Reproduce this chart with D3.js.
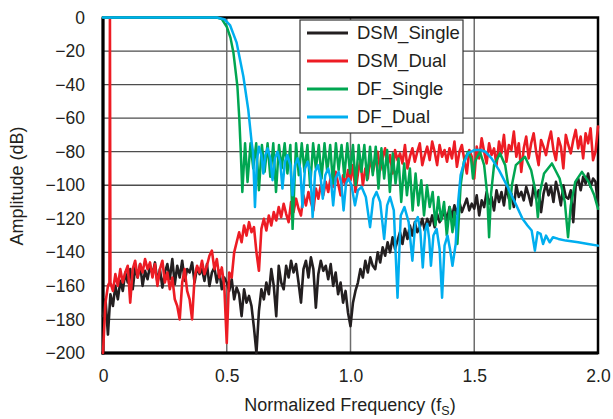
<!DOCTYPE html>
<html><head><meta charset="utf-8">
<script src="https://cdn.jsdelivr.net/npm/d3@7"></script>
<style>
body{margin:0;background:#fff}
text{font-family:"Liberation Sans",Arial,Helvetica,sans-serif;fill:#231f20}
</style>
</head><body>
<svg id="chart" width="613" height="419"></svg>
<script>
// ---------- DATA ----------
const seriesNames = ["DSM_Single", "DSM_Dual", "DF_Single", "DF_Dual"];
const seriesColors = ["#231f20", "#ed1c24", "#00a651", "#00aeef"];

const yTicks = [0, -20, -40, -60, -80, -100, -120, -140, -160, -180, -200];
const xTicks = [0, 0.5, 1.0, 1.5, 2.0];
const xTickLabels = ["0", "0.5", "1.0", "1.5", "2.0"];

// noisy spectra sampled every 0.01 fS from 0 to 2.0
const noiseStart = 0, noiseStep = 0.01;
const dsmSingleDb = [
 -178,-168,-189,-165,-172,-160,-168,-157,-163,-152,
 -158,-150,-162,-149,-155,-147,-160,-151,-156,-148,
 -153,-146,-158,-150,-161,-152,-147,-156,-144,-159,
 -148,-155,-145,-157,-150,-152,-146,-158,-149,-153,
 -150,-157,-147,-160,-152,-149,-158,-151,-162,-155,
 -158,-163,-156,-168,-161,-165,-178,-162,-170,-166,
 -172,-185,-200,-175,-162,-168,-158,-165,-150,-160,
 -178,-148,-158,-162,-148,-155,-145,-152,-147,-158,
 -170,-150,-145,-155,-143,-150,-173,-153,-145,-151,
 -148,-156,-147,-160,-152,-165,-158,-170,-163,-176,
 -184,-170,-163,-158,-150,-155,-145,-152,-143,-148,
 -150,-140,-146,-137,-142,-134,-140,-131,-138,-133,
 -128,-135,-126,-132,-124,-130,-122,-128,-125,-120,
 -127,-120,-124,-118,-125,-117,-122,-119,-115,-121,
 -113,-119,-112,-117,-110,-116,-112,-108,-115,-111,
 -114,-106,-118,-109,-113,-104,-111,-107,-115,-103,
 -110,-104,-112,-101,-108,-105,-113,-100,-107,-104,
 -109,-101,-106,-112,-100,-108,-103,-116,-105,-99,
 -106,-101,-110,-98,-104,-112,-100,-107,-108,-103,
 -122,-100,-96,-103,-95,-99,-93,-101,-96,-98,
 -112];
const dsmDualDb = [
 -200,-170,-160,-157,-163,-153,-160,-150,-158,-152,
 -148,-170,-150,-145,-155,-147,-152,-144,-150,-146,
 -155,-147,-160,-150,-145,-158,-152,-162,-155,-168,
 -172,-180,-158,-150,-163,-168,-180,-155,-148,-152,
 -145,-153,-148,-142,-139,-150,-144,-155,-149,-160,
 -194,-152,-155,-140,-134,-128,-134,-124,-130,-122,
 -128,-125,-140,-151,-126,-120,-127,-118,-124,-116,
 -121,-113,-119,-111,-117,-122,-110,-116,-108,-114,
 -118,-106,-112,-104,-110,-115,-102,-108,-100,-106,
 -98,-104,-95,-101,-92,-99,-106,-94,-100,-91,
 -97,-88,-104,-93,-85,-100,-90,-96,-83,-92,
 -86,-80,-91,-84,-78,-88,-82,-93,-79,-85,
 -81,-87,-76,-90,-83,-78,-86,-80,-75,-88,
 -82,-77,-85,-74,-80,-88,-76,-83,-79,-86,
 -78,-84,-74,-89,-80,-76,-85,-93,-79,-83,
 -96,-77,-84,-72,-80,-87,-75,-82,-78,-88,
 -74,-81,-70,-86,-76,-79,-68,-83,-75,-92,
 -78,-71,-84,-75,-69,-80,-88,-73,-77,-82,
 -74,-68,-79,-85,-72,-77,-90,-70,-76,-81,
 -73,-67,-78,-71,-84,-69,-75,-66,-85,-80,
 -65];
// test tone of the dual-tone DSM measurement
const dsmDualToneF = [0.026, 0.028, 0.030];
const dsmDualToneDb = [-158, 0, -158];

// digital filter responses
const dfSingleF = [0, 0.46, 0.48, 0.50, 0.515, 0.527, 0.543, 0.551, 0.556,
 0.563,0.574, 0.584,0.596, 0.607,0.619, 0.630,0.642, 0.653,0.665, 0.676,0.688,
 0.699,0.711, 0.722,0.734, 0.745,0.757, 0.766,0.780, 0.791,0.803, 0.814,0.826,
 0.837,0.849, 0.860,0.872, 0.883,0.895, 0.906,0.918, 0.929,0.941, 0.952,0.964,
 0.975,0.987, 0.998,1.010, 1.021,1.033, 1.044,1.056, 1.067,1.079, 1.090,1.102,
 1.113,1.125, 1.136,1.148, 1.159,1.171, 1.182,1.194, 1.205,1.217, 1.228,1.240,
 1.251,1.263, 1.274,1.286, 1.297,1.309, 1.320,1.332, 1.343,1.355, 1.366,1.378,
 1.389,1.401, 1.412,1.420,
 1.432,1.445,1.458,1.475,1.487,1.495,1.503,1.523,1.540,1.552,1.560,1.568,1.580,
 1.604,1.625,1.637,1.644,1.652,1.668,1.705,1.730,1.748,1.757,1.766,1.782,1.814,
 1.845,1.866,1.879,1.890,1.908,1.935,1.962,1.985,2.0];
const dfSingleDb = [0, 0, -1, -5.5, -12, -21, -41, -61, -78,
 -104,-75, -98,-75, -90,-75, -103,-76, -92,-75, -95,-75,
 -104,-76, -90,-75, -93,-76, -126,-75, -94,-75, -92,-76,
 -101,-75, -90,-76, -96,-75, -92,-76, -99,-75, -91,-76,
 -95,-75, -93,-76, -100,-76, -92,-76, -97,-77, -94,-77,
 -102,-78, -96,-79, -104,-81, -99,-84, -110,-87, -106,-90,
 -115,-93, -112,-97, -118,-100, -113,-104, -124,-107, -121,-110,
 -130,-113, -128,-116,
 -135,-100,-86,-80,-84,-96,-86,-80,-88,-105,-131,-105,-88,
 -81,-88,-100,-114,-100,-88,-83,-91,-104,-119,-104,-93,-87,
 -96,-110,-131,-112,-98,-92,-98,-106,-114];

const dfDualF = [0, 0.46, 0.49, 0.513, 0.54, 0.567, 0.587, 0.601,
 0.606,0.614,0.622,0.630,0.640,0.648,0.656,0.665,0.676,0.685,0.695,0.705,
 0.716,0.725,0.735,0.745,0.757,0.766,0.776,0.786,0.797,0.806,0.816,0.827,
 0.838,0.847,0.857,0.868,0.879,0.888,0.898,0.910,0.921,0.930,0.940,0.952,
 0.963,0.972,0.982,0.992,1.004,1.018,1.030,1.045,1.062,1.079,1.092,1.105,
 1.120,1.136,1.148,1.160,1.175,1.190,1.203,1.218,1.235,1.250,1.262,1.272,
 1.282,1.292,1.302,1.310,1.318,1.325,1.335,1.348,1.360,1.370,1.380,1.392,
 1.402,1.412,1.425,1.435,1.445,1.460,1.475,1.500,1.525,1.545,1.570,1.600,
 1.635,1.670,1.695,1.715,1.732,1.745,1.756,1.768,1.778,1.790,1.805,1.818,
 1.840,1.870,1.920,1.960,2.0];
const dfDualDb = [0, 0, -1, -4.5, -15, -35, -55, -75,
 -80,-113,-85,-77,-82,-93,-82,-78,-84,-97,-84,-80,
 -86,-102,-86,-82,-88,-106,-88,-84,-90,-113,-90,-86,
 -92,-119,-92,-88,-95,-108,-94,-90,-97,-112,-96,-92,
 -99,-115,-99,-96,-100,-112,-103,-101,-107,-125,-108,-104,
 -110,-132,-112,-107,-115,-167,-118,-113,-122,-145,-122,-119,
 -127,-149,-127,-123,-132,-148,-130,-126,-138,-167,-136,-130,
 -138,-148,-135,-110,-94,-86,-81,-79,-79,-80,-84,-91,
 -101,-112,-120,-124,-127,-139,-128,-129,-135,-130,-134,-131,
 -132,-133,-134,-135,-136];

// ---------- CHART ----------
const svg = d3.select("#chart");
const plot = {left: 103, right: 598, top: 17.5, bottom: 353};
const x = d3.scaleLinear().domain([0, 2]).range([plot.left, plot.right]);
const y = d3.scaleLinear().domain([-200, 0]).range([plot.bottom, plot.top]);

function pairs(fs, dbs) {
  const n = Math.min(fs.length, dbs.length);
  const out = [];
  for (let i = 0; i < n; i++) out.push([fs[i], dbs[i]]);
  return out;
}
function grid(dbs) { return dbs.map((v, i) => [noiseStart + i * noiseStep, v]); }

const black = grid(dsmSingleDb);
const red = grid(dsmDualDb).concat(pairs(dsmDualToneF, dsmDualToneDb)).sort((a, b) => a[0] - b[0]);
const green = pairs(dfSingleF, dfSingleDb);
const blue = pairs(dfDualF, dfDualDb);
const allSeries = [black, red, green, blue];
const strokeW = [2.6, 2.6, 2.5, 2.5];

// grid lines
const g = svg.append("g");
g.selectAll(".hg").data(yTicks.slice(1, -1)).enter().append("line")
  .attr("x1", plot.left).attr("x2", plot.right)
  .attr("y1", d => y(d)).attr("y2", d => y(d))
  .attr("stroke", "#4d4d4d").attr("stroke-width", 1.3);
g.selectAll(".vg").data(xTicks.slice(1, -1)).enter().append("line")
  .attr("y1", plot.top).attr("y2", plot.bottom)
  .attr("x1", d => x(d)).attr("x2", d => x(d))
  .attr("stroke", "#6d6d6d").attr("stroke-width", 1.5);

// frame
svg.append("rect").attr("x", plot.left).attr("y", plot.top)
  .attr("width", plot.right - plot.left).attr("height", plot.bottom - plot.top)
  .attr("fill", "none").attr("stroke", "#000").attr("stroke-width", 2.5);
svg.append("line").attr("x1", plot.left).attr("x2", plot.left).attr("y1", plot.top).attr("y2", plot.bottom + 1.5)
  .attr("stroke", "#000").attr("stroke-width", 3);
svg.append("line").attr("x1", plot.left - 1.5).attr("x2", plot.right).attr("y1", plot.bottom).attr("y2", plot.bottom)
  .attr("stroke", "#000").attr("stroke-width", 3.2);

// axes (labels only)
const yAxis = d3.axisLeft(y).tickValues(yTicks).tickSize(0).tickPadding(18)
  .tickFormat(d => d === 0 ? "0" : "\u2212" + Math.abs(d));
const ya = svg.append("g").attr("transform", `translate(${plot.left},0)`).call(yAxis);
ya.select(".domain").remove();
ya.selectAll("text").attr("font-size", 17.5).attr("fill", "#231f20").attr("font-family", "Liberation Sans, Arial, sans-serif");

const xAxis = d3.axisBottom(x).tickValues(xTicks).tickSize(0).tickPadding(17)
  .tickFormat((d, i) => xTickLabels[i]);
const xa = svg.append("g").attr("transform", `translate(0,${plot.bottom})`).call(xAxis);
xa.select(".domain").remove();
xa.selectAll("text").attr("font-size", 17.5).attr("fill", "#231f20").attr("font-family", "Liberation Sans, Arial, sans-serif");

// axis titles
const xt = svg.append("text").attr("x", 350).attr("y", 411).attr("text-anchor", "middle")
  .attr("font-size", 18);
xt.append("tspan").text("Normalized Frequency (f");
xt.append("tspan").text("S").attr("font-size", 12.5).attr("dy", 3.5);
xt.append("tspan").text(")").attr("dy", -3.5);

svg.append("text").attr("transform", "translate(23,186) rotate(-90)")
  .attr("text-anchor", "middle").attr("font-size", 18).text("Amplitude (dB)");

// data
svg.append("clipPath").attr("id", "clip").append("rect")
  .attr("x", plot.left - 2).attr("y", plot.top - 2)
  .attr("width", plot.right - plot.left + 4).attr("height", plot.bottom - plot.top + 4);
const line = d3.line().x(d => x(d[0])).y(d => y(d[1]));
const dg = svg.append("g").attr("clip-path", "url(#clip)");
allSeries.forEach((s, i) => {
  dg.append("path").datum(s).attr("d", line).attr("fill", "none")
    .attr("stroke", seriesColors[i]).attr("stroke-width", strokeW[i])
    .attr("stroke-linejoin", "round").attr("stroke-linecap", "round");
});

// legend
const lg = svg.append("g");
lg.append("rect").attr("x", 300).attr("y", 20).attr("width", 163).attr("height", 113)
  .attr("fill", "#fff").attr("stroke", "#333").attr("stroke-width", 1.2);
seriesNames.forEach((n, i) => {
  const yy = 33 + i * 28;
  lg.append("line").attr("x1", 307).attr("x2", 348).attr("y1", yy).attr("y2", yy)
    .attr("stroke", seriesColors[i]).attr("stroke-width", 3);
  lg.append("text").attr("x", 357).attr("y", yy).attr("dy", "0.35em")
    .attr("font-size", 18.5).text(n);
});
</script>
</body></html>
